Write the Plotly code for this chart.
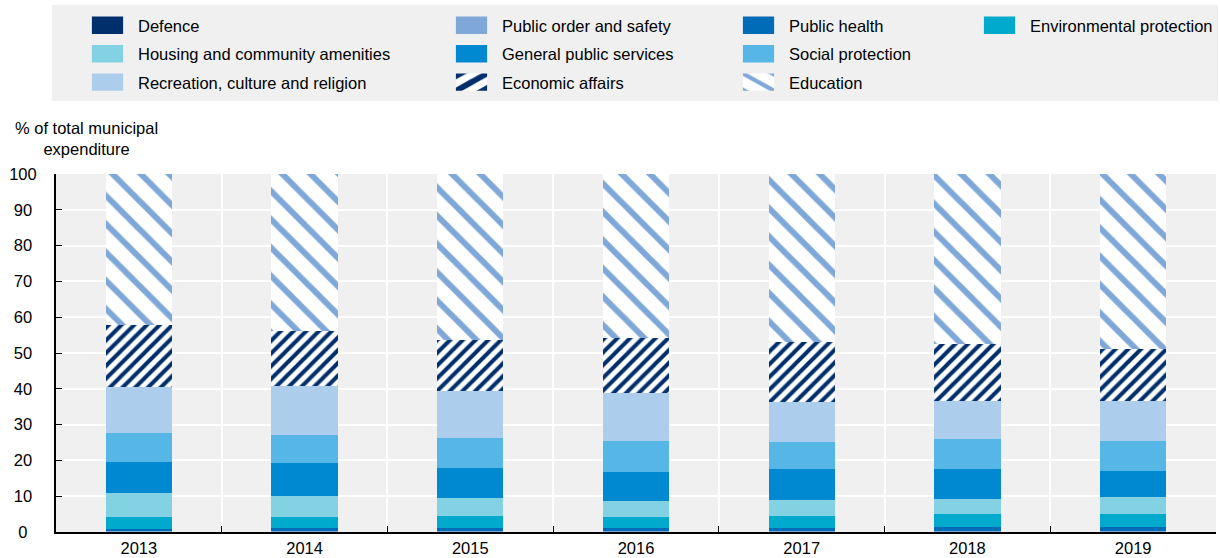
import plotly.graph_objects as go

years = ["2013", "2014", "2015", "2016", "2017", "2018", "2019"]

defence = [0.1, 0.1, 0.1, 0.1, 0.1, 0.1, 0.1]
public_order = [0.1, 0.1, 0.1, 0.1, 0.1, 0.1, 0.1]
public_health = [0.6, 0.8, 0.9, 0.8, 0.8, 1.3, 1.3]
environmental = [3.5, 3.3, 3.4, 3.1, 3.5, 3.5, 3.5]
housing = [6.5, 5.8, 4.9, 4.6, 4.4, 4.3, 4.8]
general_public = [8.8, 9.1, 8.6, 8.1, 8.7, 8.4, 7.3]
social = [8.0, 7.9, 8.3, 8.6, 7.6, 8.3, 8.3]
recreation = [12.9, 13.7, 13.1, 13.3, 11.0, 10.6, 11.2]
economic = [17.4, 15.3, 14.2, 15.4, 16.8, 15.8, 14.5]
education = [42.2, 43.9, 46.4, 45.9, 47.0, 47.6, 48.9]

y_ticks = [0, 10, 20, 30, 40, 50, 60, 70, 80, 90, 100]
# labels padded so that they appear centred like in the reference
y_ticktext = ["0\u00a0\u00a0", "10\u00a0", "20\u00a0", "30\u00a0", "40\u00a0", "50\u00a0",
              "60\u00a0", "70\u00a0", "80\u00a0", "90\u00a0", "100"]

FONT = "Liberation Sans, Arial, sans-serif"
FS = 16.5
NAVY = "#002F6C"
LIGHTBLUE = "#7FA8D9"

series = [
    ("Defence", defence, NAVY, None, "legend"),
    ("Public order and safety", public_order, LIGHTBLUE, None, "legend2"),
    ("Public health", public_health, "#006BB6", None, "legend3"),
    ("Environmental protection", environmental, "#00AACC", None, "legend4"),
    ("Housing and community amenities", housing, "#83D2E3", None, "legend"),
    ("General public services", general_public, "#0088D0", None, "legend2"),
    ("Social protection", social, "#56B7E6", None, "legend3"),
    ("Recreation, culture and religion", recreation, "#ADCDEC", None, "legend"),
    ("Economic affairs", economic, NAVY, ("/", 9, 0.45), "legend2"),
    ("Education", education, LIGHTBLUE, ("\\", 20, 0.3), "legend3"),
]

fig = go.Figure()
for i, (name, vals, color, pat, leg) in enumerate(series):
    marker = dict(color=color, line=dict(width=0))
    if pat is not None:
        marker["pattern"] = dict(shape=pat[0], size=pat[1], solidity=pat[2],
                                 fillmode="replace", fgcolor=color, bgcolor="white")
    fig.add_trace(go.Bar(x=years, y=vals, name=name, marker=marker,
                         legend=leg, legendgroup=f"g{i}"))

W, H = 1220, 558
L, R, T, B = 56, 4, 174, 26
pw, ph = W - L - R, H - T - B


def px_x(px):
    return (px - L) / pw


def px_y(py):
    return 1 + (T - py) / ph


legend_common = dict(
    orientation="v", traceorder="grouped", tracegroupgap=4,
    bgcolor="rgba(0,0,0,0)", font=dict(family=FONT, size=FS, color="#000"),
    yanchor="top", xanchor="left", itemclick=False, itemdoubleclick=False,
)
leg_y = px_y(8)
fig.update_layout(
    width=W, height=H,
    margin=dict(l=L, r=R, t=T, b=B, autoexpand=False),
    paper_bgcolor="white",
    plot_bgcolor="#F0F0F0",
    barmode="stack",
    bargap=0.6,
    font=dict(family=FONT, size=FS, color="#000"),
    legend=dict(x=px_x(98), y=leg_y, **legend_common),
    legend2=dict(x=px_x(462), y=leg_y, **legend_common),
    legend3=dict(x=px_x(749), y=leg_y, **legend_common),
    legend4=dict(x=px_x(990), y=leg_y, **legend_common),
    xaxis=dict(
        type="category", tickson="boundaries", ticks="inside", ticklen=6,
        tickcolor="#000", showgrid=True, gridcolor="white", gridwidth=2,
        showline=True, linecolor="#000", linewidth=2,
        tickfont=dict(family=FONT, size=FS), fixedrange=True,
    ),
    yaxis=dict(
        range=[0, 100], tickvals=y_ticks, ticktext=y_ticktext, ticks="inside", ticklen=6,
        tickcolor="#000", showgrid=True, gridcolor="white", gridwidth=2,
        showline=True, linecolor="#000", linewidth=2, zeroline=False,
        ticklabelstandoff=14,
        tickfont=dict(family=FONT, size=FS), fixedrange=True,
    ),
    shapes=[dict(type="rect", xref="paper", yref="paper",
                 x0=px_x(52), x1=px_x(1218), y0=px_y(101), y1=px_y(5),
                 fillcolor="#F0F0F0", line=dict(width=0), layer="below")],
    annotations=[dict(text="% of total municipal<br>expenditure", xref="paper", yref="paper",
                      x=px_x(86), y=px_y(117), xanchor="center", yanchor="top",
                      showarrow=False, align="center",
                      font=dict(family=FONT, size=FS, color="#000"))],
)

post_script = """
document.body.style.margin = '0';
var gd = document.getElementById('{plot_id}');
function fixSwatches() {
  gd.querySelectorAll('g.scrollbox').forEach(function (g) {
    g.removeAttribute('clip-path');
  });
  gd.querySelectorAll('g.legendpoints path').forEach(function (p) {
    p.setAttribute('transform', 'translate(9.5,0) scale(2.6,1.45)');
  });
}
fixSwatches();
if (gd.on) { gd.on('plotly_afterplot', fixSwatches); }
setTimeout(fixSwatches, 50);
setTimeout(fixSwatches, 300);
"""

fig.write_html("out.html", post_script=post_script, config={"displayModeBar": False})
